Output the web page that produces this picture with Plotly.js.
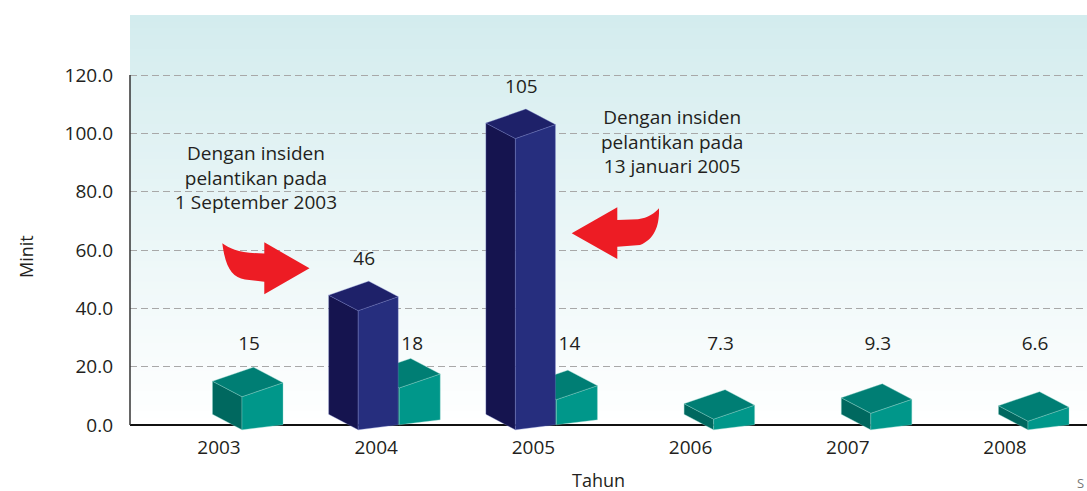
<!DOCTYPE html>
<html>
<head>
<meta charset="utf-8">
<script src="https://cdn.plot.ly/plotly-3.0.1.min.js"></script>
<style>html,body{margin:0;padding:0;background:#fff;}#chart{width:1087px;height:491px;}</style>
</head>
<body>
<div id="chart"></div>
<script>
// ---------- data ----------
const years = ['2003', '2004', '2005', '2006', '2007', '2008'];
const tealValues = [15, 18, 14, 7.3, 9.3, 6.6];
const tealLabels = ['15', '18', '14', '7.3', '9.3', '6.6'];
const navyValues = [null, 46, 105, null, null, null];
const navyLabels = [null, '46', '105', null, null, null];
const yTickVals = [0, 20, 40, 60, 80, 100, 120];
const yTickText = ['0.0', '20.0', '40.0', '60.0', '80.0', '100.0', '120.0'];
const note2003 = 'Dengan insiden<br>pelantikan pada<br>1 September 2003';
const note2005 = 'Dengan insiden<br>pelantikan pada<br>13 januari 2005';
const xTitle = 'Tahun';
const yTitle = 'Minit';

// ---------- geometry / style ----------
const W = 1087, H = 491;
const M = {l: 130, r: 0, t: 15, b: 57};
const plotW = W - M.l - M.r, plotH = H - M.t - M.b;
const PXX = 157.2;            // px per category
const PXY = 350 / 120;        // px per minute
const x0px = 219 - M.l;       // first category position inside plot (px)
const xRange = [-x0px / PXX, (plotW - x0px) / PXX];
const yTop = (425 - M.t) / PXY;
const yBot = -(H - M.b - 425) / PXY;
const yRange = [yBot, yTop];
const ux = p => p / PXX, uy = p => p / PXY;

const FONT = 'Open Sans, Noto Sans, sans-serif';
const TXT = '#231F20';

const tealStyle = {front: '#00978A', top: '#007E74', left: '#00685F', edge: 'rgba(140,210,200,0.55)',
  frontLeft: 23, frontWidth: 41, topOffset: 5.3};
const navyStyle = {front: '#262E7E', top: '#1E2169', left: '#15144F', edge: 'rgba(120,130,200,0.5)',
  frontLeft: -18, frontWidth: 40, topOffset: 6.8};

const traces = [];
function addPoly(pts, fill, edge) {
  const xs = pts.map(p => p[0]); const ys = pts.map(p => p[1]);
  xs.push(xs[0]); ys.push(ys[0]);
  traces.push({type: 'scatter', mode: 'lines', x: xs, y: ys, fill: 'toself', fillcolor: fill,
    line: {color: edge, width: 0.7}, hoverinfo: 'skip', showlegend: false});
}
function addBox(i, value, st, raised) {
  const fl = i + ux(st.frontLeft);
  const fr = fl + ux(st.frontWidth);
  const dx = ux(-29.5), dy = uy(15.5);
  let base = uy(-4.8);
  if (raised) base += uy(5);
  const baseR = base + uy(5);
  const T = Math.max(value - st.topOffset, base + uy(4));
  const TR = T + uy(14);
  addPoly([[fl, base], [fl, T], [fl + dx, T + dy], [fl + dx, base + dy]], st.left, st.edge);
  addPoly([[fl, base], [fr, baseR], [fr, TR], [fl, T]], st.front, st.edge);
  addPoly([[fl, T], [fr, TR], [fr + dx, TR + dy], [fl + dx, T + dy]], st.top, st.edge);
}
// teal first (behind), then navy
years.forEach((y, i) => addBox(i, tealValues[i], tealStyle, navyValues[i] != null));
years.forEach((y, i) => { if (navyValues[i] != null) addBox(i, navyValues[i], navyStyle, false); });

// value labels
traces.push({type: 'scatter', mode: 'text', x: years.map((y, i) => i + ux(navyValues[i] != null ? 36 : 30)),
  y: years.map(() => 27.4),
  text: tealLabels, textposition: 'middle center', textfont: {family: FONT, size: 19, color: TXT},
  hoverinfo: 'skip', showlegend: false});
const nx = [], ny = [], nt = [];
years.forEach((y, i) => { if (navyValues[i] != null) { nx.push(i + ux(-12)); ny.push(navyValues[i] + 10.4); nt.push(navyLabels[i]); } });
traces.push({type: 'scatter', mode: 'text', x: nx, y: ny, text: nt, textposition: 'middle center',
  textfont: {family: FONT, size: 19, color: TXT}, hoverinfo: 'skip', showlegend: false});

// ---------- background gradient bands ----------
const shapes = [];
const N = 60;
const c0 = [255, 255, 255], c1 = [211, 236, 238];
for (let k = 0; k < N; k++) {
  const t = (k + 0.5) / N;
  const c = c0.map((v, j) => Math.round(v + (c1[j] - v) * t));
  shapes.push({type: 'rect', xref: 'paper', yref: 'y', x0: 0, x1: 1.01,
    y0: yTop * k / N, y1: k === N - 1 ? yTop + 2 : yTop * (k + 1) / N + 1.2, layer: 'below',
    fillcolor: `rgb(${c[0]},${c[1]},${c[2]})`, line: {width: 0}});
}
// y axis line (0 .. 120 only)
shapes.push({type: 'line', xref: 'paper', yref: 'y', x0: 0, x1: 0, y0: 0, y1: 120,
  line: {color: '#333333', width: 1.5}});

// red arrows (decorative, pixel-designed -> paper)
const px = x => (x - M.l) / plotW;
const py = y => (H - M.b - y) / plotH;
function path(cmds) {
  return cmds.map(c => c[0] + ' ' + c.slice(1).reduce((a, v, j) => {
    a.push(j % 2 === 0 ? px(v).toFixed(5) : py(v).toFixed(5)); return a; }, []).join(' ')).join(' ') + ' Z';
}
const arrowR = path([
  ['M', 222.3, 243.3], ['C', 230, 249, 240, 253.3, 264.3, 253.5], ['L', 264.3, 242.3], ['L', 309.5, 268.3],
  ['L', 264.3, 294.2], ['L', 264.3, 281.7], ['L', 245, 279.5], ['C', 232, 277, 225.5, 268, 222.3, 243.3]
]);
const arrowL = path([
  ['M', 571.7, 233.3], ['L', 617.3, 207.3], ['L', 617.3, 220], ['L', 638, 219.3],
  ['C', 648, 218, 655, 213, 659, 208.3], ['C', 659.5, 225, 655, 239, 640, 245],
  ['L', 617.3, 246.7], ['L', 617.3, 259]
]);
[arrowR, arrowL].forEach(p => shapes.push({type: 'path', xref: 'paper', yref: 'paper', path: p,
  fillcolor: '#ED1C24', line: {width: 0}, layer: 'above'}));

// ---------- annotations ----------
const annotations = [
  {text: note2003, xref: 'paper', yref: 'paper', x: px(256), y: py(177), xanchor: 'center', yanchor: 'middle',
   align: 'center', showarrow: false, font: {family: FONT, size: 19, color: TXT}},
  {text: note2005, xref: 'paper', yref: 'paper', x: px(671.5), y: py(141.5), xanchor: 'center', yanchor: 'middle',
   align: 'center', showarrow: false, font: {family: FONT, size: 19, color: TXT}},
  {text: yTitle, xref: 'paper', yref: 'paper', x: px(26), y: py(257), xanchor: 'center', yanchor: 'middle',
   textangle: -90, showarrow: false, font: {family: FONT, size: 18, color: TXT}},
  {text: xTitle, xref: 'paper', yref: 'paper', x: px(598), y: py(480), xanchor: 'center', yanchor: 'middle',
   showarrow: false, font: {family: FONT, size: 18, color: TXT}},
  {text: 'S', xref: 'paper', yref: 'paper', x: px(1086), y: py(483), xanchor: 'right', yanchor: 'middle',
   showarrow: false, font: {family: FONT, size: 13, color: '#777'}}
];

const layout = {
  width: W, height: H, margin: M,
  paper_bgcolor: '#ffffff', plot_bgcolor: 'rgba(0,0,0,0)',
  showlegend: false,
  xaxis: {range: xRange, tickvals: years.map((y, i) => i), ticktext: years, showgrid: false,
    zeroline: false, showline: false, ticks: '', ticklabelstandoff: 0,
    tickfont: {family: FONT, size: 19, color: TXT}, fixedrange: true},
  yaxis: {range: yRange, tickvals: yTickVals, ticktext: yTickText, showgrid: true,
    gridcolor: '#A8A8A8', gridwidth: 1, griddash: '7px,4px',
    zeroline: true, zerolinecolor: '#111111', zerolinewidth: 1.5, showline: false, ticks: '',
    ticklabelstandoff: 16, tickfont: {family: FONT, size: 19, color: TXT}, fixedrange: true},
  shapes: shapes,
  annotations: annotations
};

Plotly.newPlot('chart', traces, layout, {displayModeBar: false, staticPlot: true});
</script>
</body>
</html>
